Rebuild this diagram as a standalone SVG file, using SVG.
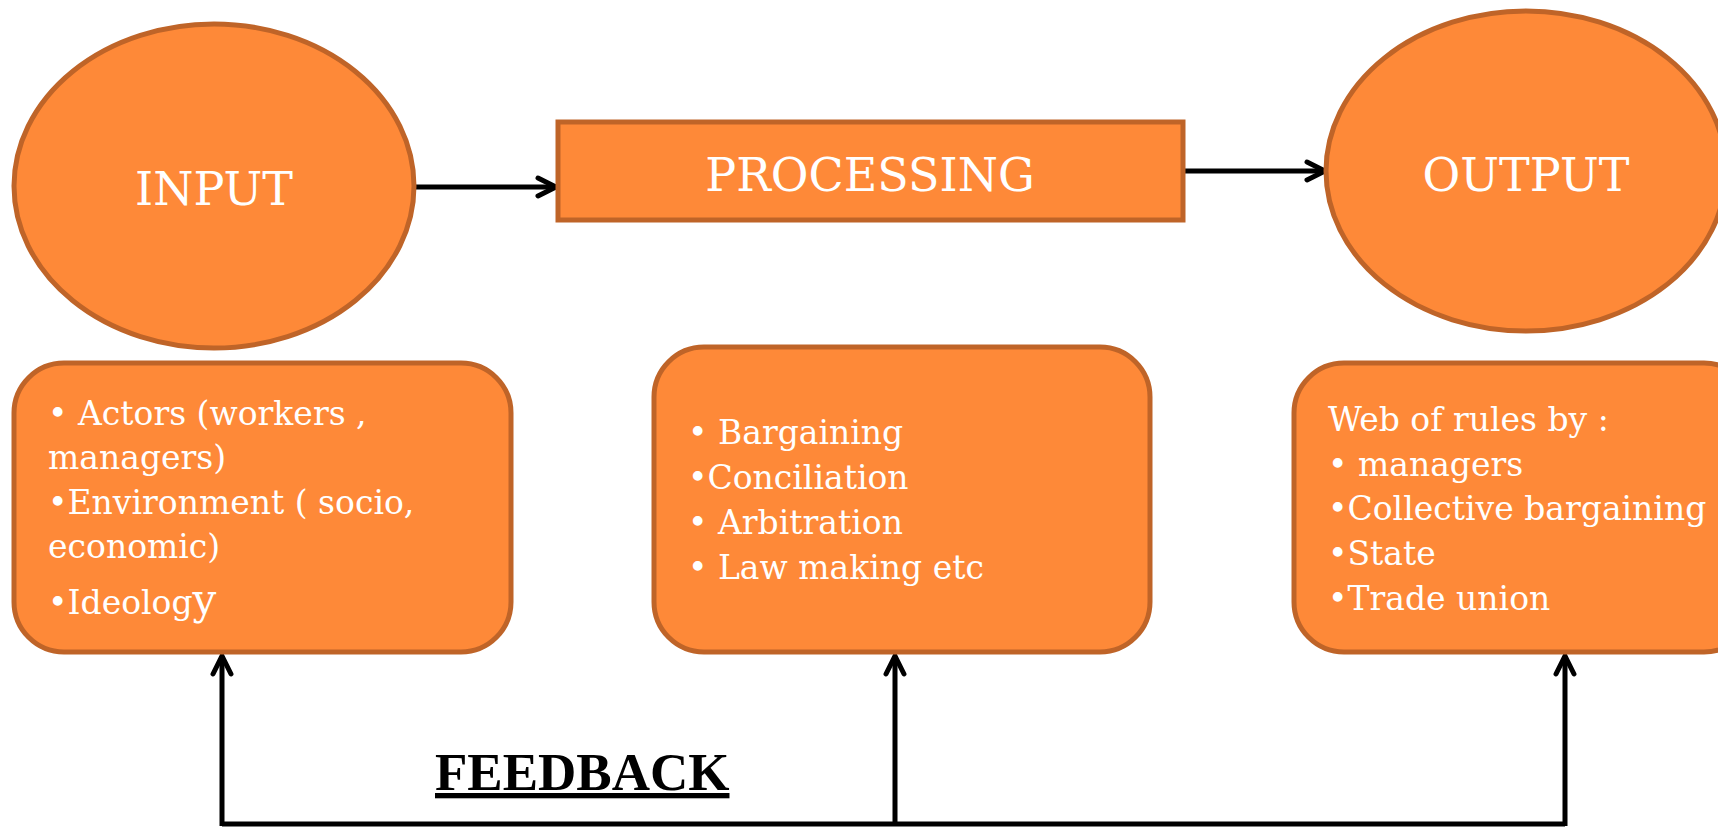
<svg xmlns="http://www.w3.org/2000/svg" width="1718" height="827" viewBox="0 0 1718 827">
<defs>
<marker id="arr" viewBox="0 0 24 24" refX="21" refY="12" markerWidth="24" markerHeight="24" markerUnits="userSpaceOnUse" orient="auto">
<path d="M3,3 L21,12 L3,21" fill="none" stroke="#000" stroke-width="5" stroke-linecap="round" stroke-linejoin="miter"/>
</marker>
<style>
.shape{fill:#FE8938;stroke:#BF6428;stroke-width:5}
.title{font-family:"DejaVu Serif","Liberation Serif",serif;font-size:46px;fill:#fff;text-anchor:middle}
.body{font-family:"DejaVu Serif","Liberation Serif",serif;font-size:33px;fill:#fff}
.conn{fill:none;stroke:#000;stroke-width:5}
.fb{font-family:"Liberation Serif","DejaVu Serif",serif;font-size:53px;font-weight:bold;fill:#000;text-decoration:underline}
</style>
</defs>
<rect width="1718" height="827" fill="#fff"/>
<g id="connectors">
<line class="conn" x1="414" y1="187" x2="556" y2="187" marker-end="url(#arr)"/>
<line class="conn" x1="1183" y1="171" x2="1325" y2="171" marker-end="url(#arr)"/>
<polyline class="conn" points="222,824 1565,824"/>
<line class="conn" x1="222" y1="826" x2="222" y2="656" marker-end="url(#arr)"/>
<line class="conn" x1="895" y1="826" x2="895" y2="656" marker-end="url(#arr)"/>
<line class="conn" x1="1565" y1="826" x2="1565" y2="656" marker-end="url(#arr)"/>
</g>
<g id="input">
<ellipse class="shape" cx="214" cy="186" rx="200" ry="162"/>
<text class="title" x="214" y="205">INPUT</text>
</g>
<g id="processing">
<rect class="shape" x="558" y="122" width="625" height="98"/>
<text class="title" x="870" y="191">PROCESSING</text>
</g>
<g id="output">
<ellipse class="shape" cx="1526" cy="171" rx="200" ry="160"/>
<text class="title" x="1526" y="191">OUTPUT</text>
</g>
<g id="input-details">
<rect class="shape" x="14" y="363" width="497" height="289" rx="50"/>
<text class="body" x="48" y="425">• Actors (workers ,</text>
<text class="body" x="48" y="469">managers)</text>
<text class="body" x="48" y="514">•Environment ( socio,</text>
<text class="body" x="48" y="558">economic)</text>
<text class="body" x="48" y="614">•Ideolog<tspan font-size="42">y</tspan></text>
</g>
<g id="processing-details">
<rect class="shape" x="654" y="347" width="496" height="305" rx="50"/>
<text class="body" x="688" y="444">• Bargaining</text>
<text class="body" x="688" y="489">•Conciliation</text>
<text class="body" x="688" y="534">• Arbitration</text>
<text class="body" x="688" y="579">• Law making etc</text>
</g>
<g id="output-details">
<rect class="shape" x="1294" y="363" width="460" height="289" rx="50"/>
<text class="body" x="1328" y="431">Web of rules by :</text>
<text class="body" x="1328" y="476">• managers</text>
<text class="body" x="1328" y="520">•Collective bargaining</text>
<text class="body" x="1328" y="565">•State</text>
<text class="body" x="1328" y="610">•Trade union</text>
</g>
<g id="feedback-label">
<text class="fb" x="435" y="790">FEEDBACK</text>
</g>
</svg>
